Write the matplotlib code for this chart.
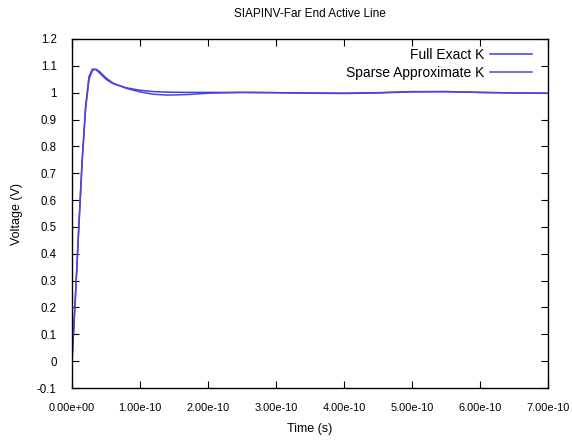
import matplotlib

matplotlib.use("Agg")
import matplotlib.pyplot as plt
from matplotlib.ticker import FuncFormatter, MultipleLocator

# time in units of 1e-10 s
time_e10 = [0.0, 0.05, 0.1, 0.15, 0.2, 0.25, 0.3, 0.35, 0.4, 0.5, 0.6, 0.8,
            1.0, 1.2, 1.4, 1.7, 2.0, 2.5, 3.0, 3.5, 4.0, 4.5, 5.0, 5.5, 6.0,
            6.5, 7.0]
full_exact = [0.0, 0.24, 0.50, 0.75, 0.95, 1.06, 1.088, 1.086, 1.075, 1.05,
              1.034, 1.018, 1.009, 1.004, 1.002, 1.001, 1.001, 1.001, 1.000,
              0.999, 0.998, 1.000, 1.004, 1.004, 1.001, 0.999, 0.998]
sparse_approx = [0.0, 0.24, 0.50, 0.75, 0.94, 1.05, 1.083, 1.088, 1.08, 1.055,
                 1.036, 1.016, 1.003, 0.994, 0.991, 0.993, 0.998, 1.001, 1.000,
                 0.998, 0.997, 0.999, 1.003, 1.004, 1.001, 0.999, 0.998]
x_ticks_e10 = [0, 1, 2, 3, 4, 5, 6, 7]

plt.rcParams["font.family"] = ["Liberation Sans", "DejaVu Sans"]
plt.rcParams["font.size"] = 8

fig = plt.figure(figsize=(5.72, 4.45), dpi=100)
ax = fig.add_axes([0.1259, 0.128, 0.958 - 0.1259, 0.9124 - 0.128])

t = [v * 1e-10 for v in time_e10]
ax.plot(t, full_exact, color="#3c3cf5", lw=1.1, label="Full Exact K")
ax.plot(t, sparse_approx, color="#5046c8", lw=1.1, label="Sparse Approximate K")

ax.set_xlim(0, 7e-10)
ax.set_ylim(-0.1, 1.2)
ax.set_xticks([v * 1e-10 for v in x_ticks_e10])
ax.yaxis.set_major_locator(MultipleLocator(0.1))
ax.xaxis.set_major_formatter(FuncFormatter(lambda v, p: f"{v:.2e}"))
ax.yaxis.set_major_formatter(FuncFormatter(lambda v, p: f"{round(v, 2):g}"))
ax.tick_params(direction="in", top=True, right=True, length=5, width=0.8,
               labelsize=8.3)
ax.tick_params(axis="x", pad=11, labelsize=7.9)
ax.tick_params(axis="y", pad=11)
for s in ax.spines.values():
    s.set_linewidth(1.0)

ax.set_xlabel("Time (s)", fontsize=9, labelpad=7)
ax.set_ylabel("Voltage (V)", fontsize=9, labelpad=10)
ax.set_title("SIAPINV-Far End Active Line", fontsize=8.5, pad=16)

leg = ax.legend(loc="upper right", bbox_to_anchor=(0.978, 0.99),
                borderaxespad=0, frameon=False, markerfirst=False,
                fontsize=10, handlelength=3.0, handletextpad=0.45,
                labelspacing=0.25)

fig.savefig("out.png", dpi=100)
